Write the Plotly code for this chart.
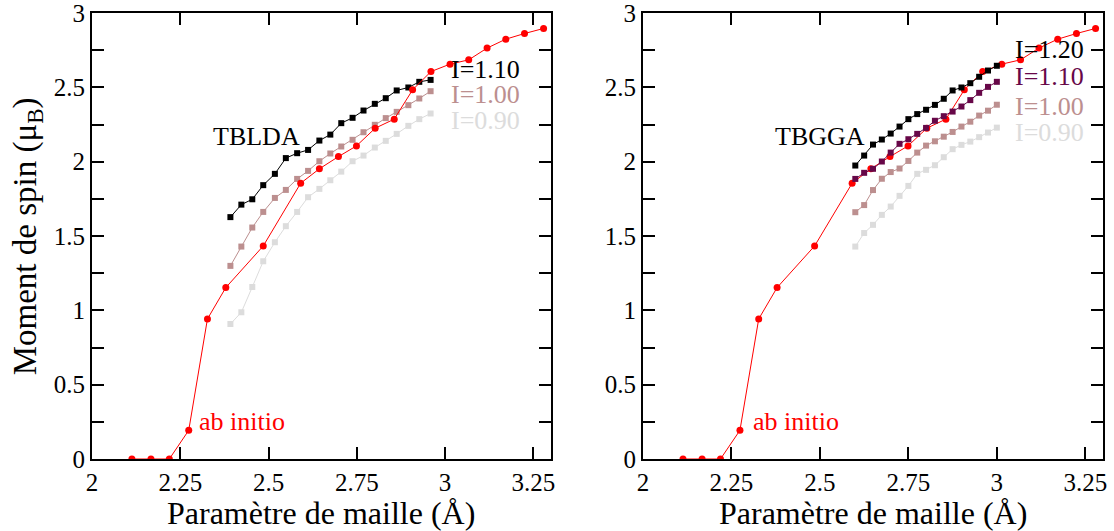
import plotly.graph_objects as go

# ---------------- data ----------------
# ab initio (same in both panels)
abinit_x = [2.113, 2.167, 2.219, 2.274, 2.327, 2.379, 2.485, 2.591, 2.644, 2.698, 2.749,
            2.802, 2.856, 2.908, 2.960, 3.014, 3.067, 3.119, 3.172, 3.225, 3.279]
abinit_y = [0.0, 0.0, 0.0, 0.193, 0.942, 1.153, 1.433, 1.855, 1.952, 2.034, 2.106,
            2.225, 2.286, 2.483, 2.606, 2.656, 2.685, 2.764, 2.824, 2.862, 2.896]

# TBLDA (left panel)
lda_x = [2.392, 2.423, 2.454, 2.485, 2.518, 2.549, 2.581, 2.612, 2.644, 2.675,
         2.706, 2.738, 2.769, 2.801, 2.832, 2.863, 2.896, 2.927, 2.959]
lda_i110 = [1.627, 1.711, 1.747, 1.842, 1.918, 2.024, 2.057, 2.079, 2.142, 2.182,
            2.259, 2.295, 2.344, 2.389, 2.427, 2.479, 2.499, 2.537, 2.550]
lda_i100 = [1.299, 1.429, 1.557, 1.662, 1.756, 1.810, 1.884, 1.938, 2.003, 2.055,
            2.102, 2.147, 2.198, 2.248, 2.293, 2.335, 2.380, 2.425, 2.474]
lda_i090 = [0.908, 0.987, 1.157, 1.330, 1.458, 1.566, 1.662, 1.761, 1.817, 1.875,
            1.933, 2.003, 2.041, 2.095, 2.140, 2.187, 2.241, 2.286, 2.324]

# TBGGA (right panel)
gga_x = [2.600, 2.625, 2.650, 2.675, 2.700, 2.725, 2.750, 2.775, 2.800, 2.825,
         2.850, 2.875, 2.900, 2.925, 2.950, 2.975, 3.000]
gga_i120 = [1.974, 2.041, 2.115, 2.149, 2.189, 2.236, 2.286, 2.320, 2.349, 2.382,
            2.423, 2.479, 2.499, 2.528, 2.571, 2.613, 2.645]
gga_i110 = [1.884, 1.925, 1.952, 2.001, 2.061, 2.120, 2.151, 2.187, 2.227, 2.275,
            2.306, 2.337, 2.371, 2.414, 2.463, 2.503, 2.537]
gga_i100 = [1.660, 1.708, 1.809, 1.885, 1.930, 1.954, 2.005, 2.061, 2.108, 2.137,
            2.168, 2.200, 2.236, 2.269, 2.310, 2.343, 2.383]
gga_i090 = [1.429, 1.520, 1.575, 1.642, 1.698, 1.770, 1.837, 1.918, 1.945, 1.976,
            2.030, 2.084, 2.113, 2.135, 2.165, 2.196, 2.229]

x_ticks = [2.0, 2.25, 2.5, 2.75, 3.0, 3.25]
x_ticktext = ["2", "2.25", "2.5", "2.75", "3", "3.25"]
y_ticks = [0, 0.5, 1.0, 1.5, 2.0, 2.5, 3.0]
y_ticktext = ["0", "0.5", "1", "1.5", "2", "2.5", "3"]

# ---------------- styles ----------------
RED = "#ff0000"
BLACK = "#000000"
BROWN = "rgb(188,143,143)"
GREY = "rgb(220,220,220)"
MAROON = "rgb(103,7,72)"
FONT = "Liberation Serif"

fig = go.Figure()


def tb(x, y, color, xa, ya):
    fig.add_trace(go.Scatter(x=x, y=y, mode="lines+markers", xaxis=xa, yaxis=ya,
                             line=dict(color=color, width=1),
                             marker=dict(symbol="square", size=6, color=color),
                             showlegend=False, hoverinfo="x+y"))


def ab(xa, ya):
    fig.add_trace(go.Scatter(x=abinit_x, y=abinit_y, mode="lines+markers", xaxis=xa, yaxis=ya,
                             line=dict(color=RED, width=1),
                             marker=dict(symbol="circle", size=7, color=RED),
                             showlegend=False, hoverinfo="x+y"))


# left panel
tb(lda_x, lda_i090, GREY, "x", "y")
tb(lda_x, lda_i100, BROWN, "x", "y")
tb(lda_x, lda_i110, BLACK, "x", "y")
ab("x", "y")

# right panel
ab("x2", "y2")
tb(gga_x, gga_i090, GREY, "x2", "y2")
tb(gga_x, gga_i100, BROWN, "x2", "y2")
tb(gga_x, gga_i110, MAROON, "x2", "y2")
tb(gga_x, gga_i120, BLACK, "x2", "y2")

tickfont = dict(family=FONT, size=25, color="black")
titlefont = dict(family=FONT, size=32, color="black")

xaxis_common = dict(range=[2.0, 3.3], tickvals=x_ticks, ticktext=x_ticktext,
                    showline=True, linecolor="black", linewidth=2, mirror="ticks",
                    ticks="inside", ticklen=12, tickwidth=2, tickcolor="black",
                    showgrid=False, zeroline=False, tickfont=tickfont,
                    automargin=False, ticklabeloverflow="allow")
yaxis_common = dict(range=[0, 3.0], tickvals=y_ticks, ticktext=y_ticktext,
                    showline=True, linecolor="black", linewidth=2, mirror="ticks",
                    ticks="inside", ticklen=12, tickwidth=2, tickcolor="black",
                    minor=dict(dtick=0.25, ticks="inside", ticklen=12, tickwidth=2,
                               tickcolor="black", showgrid=False),
                    showgrid=False, zeroline=False, tickfont=tickfont,
                    automargin=False, ticklabeloverflow="allow")

L_DOM = [0, 0.454]
R_DOM = [0.545, 1]

fig.update_layout(
    width=1114, height=531,
    margin=dict(l=92, r=11, t=13, b=72),
    paper_bgcolor="white", plot_bgcolor="white",
    xaxis=dict(domain=L_DOM, anchor="y", **xaxis_common),
    yaxis=dict(domain=[0, 1], anchor="x", **yaxis_common),
    xaxis2=dict(domain=R_DOM, anchor="y2", **xaxis_common),
    yaxis2=dict(domain=[0, 1], anchor="x2", **yaxis_common),
)

# axis titles
for dom in (L_DOM, R_DOM):
    fig.add_annotation(x=(dom[0] + dom[1]) / 2, y=-0.122, xref="paper", yref="paper",
                       text="Paramètre de maille (Å)", showarrow=False,
                       xanchor="center", yanchor="middle", font=titlefont)
fig.add_annotation(x=-0.064, y=0.5, xref="paper", yref="paper",
                   text="Moment de spin (μ<sub>B</sub>)", showarrow=False, textangle=-90,
                   xanchor="center", yanchor="middle",
                   font=dict(family=FONT, size=33, color="black"))

labfont = lambda c: dict(family=FONT, size=26, color=c)
annots = [
    ("x", "y", 2.467, 2.17, "TBLDA", BLACK, "center"),
    ("x", "y", 3.012, 2.62, "I=1.10", BLACK, "left"),
    ("x", "y", 3.012, 2.455, "I=1.00", BROWN, "left"),
    ("x", "y", 3.012, 2.28, "I=0.90", GREY, "left"),
    ("x", "y", 2.297, 0.25, "ab initio", RED, "left"),
    ("x2", "y2", 2.499, 2.17, "TBGGA", BLACK, "center"),
    ("x2", "y2", 3.046, 2.755, "I=1.20", BLACK, "left"),
    ("x2", "y2", 3.046, 2.57, "I=1.10", MAROON, "left"),
    ("x2", "y2", 3.046, 2.37, "I=1.00", BROWN, "left"),
    ("x2", "y2", 3.046, 2.195, "I=0.90", GREY, "left"),
    ("x2", "y2", 2.306, 0.25, "ab initio", RED, "left"),
]
for xr, yr, x, y, t, c, xa in annots:
    fig.add_annotation(x=x, y=y, xref=xr, yref=yr, text=t, showarrow=False,
                       xanchor=xa, yanchor="middle", font=labfont(c))

fig.write_html("out.html", config={"displayModeBar": False},
               post_script="document.body.style.margin='0';document.body.style.overflow='hidden';")
